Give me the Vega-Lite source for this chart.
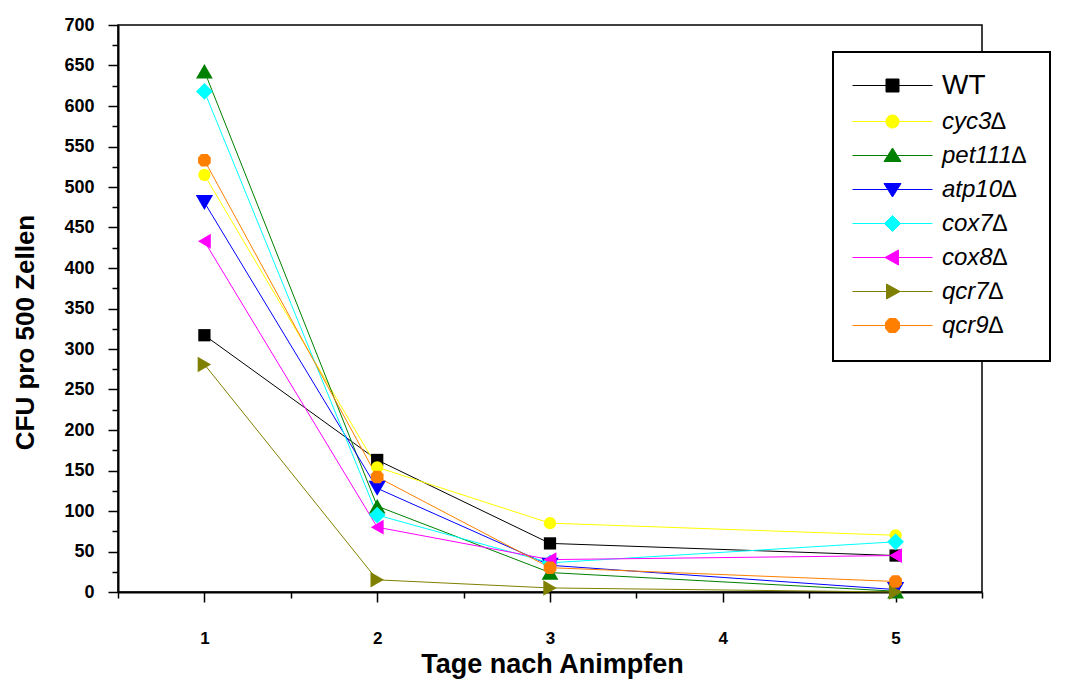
{
  "$schema": "https://vega.github.io/schema/vega-lite/v6.json",
  "width": 864,
  "height": 567,
  "autosize": {"type": "none"},
  "padding": {"left": 118, "top": 25, "right": 84, "bottom": 87},
  "background": "white",
  "config": {"view": {"stroke": "black", "strokeWidth": 1.5}, "font": "Liberation Sans"},
  "data": {
    "values": [
      {"series": "WT", "day": 1, "cfu": 317}, {"series": "WT", "day": 2, "cfu": 163}, {"series": "WT", "day": 3, "cfu": 60}, {"series": "WT", "day": 5, "cfu": 45},
      {"series": "cyc3∆", "day": 1, "cfu": 515}, {"series": "cyc3∆", "day": 2, "cfu": 154}, {"series": "cyc3∆", "day": 3, "cfu": 85}, {"series": "cyc3∆", "day": 5, "cfu": 70},
      {"series": "pet111∆", "day": 1, "cfu": 643}, {"series": "pet111∆", "day": 2, "cfu": 106}, {"series": "pet111∆", "day": 3, "cfu": 24}, {"series": "pet111∆", "day": 5, "cfu": 1},
      {"series": "atp10∆", "day": 1, "cfu": 481}, {"series": "atp10∆", "day": 2, "cfu": 128}, {"series": "atp10∆", "day": 3, "cfu": 33}, {"series": "atp10∆", "day": 5, "cfu": 3},
      {"series": "cox7∆", "day": 1, "cfu": 618}, {"series": "cox7∆", "day": 2, "cfu": 95}, {"series": "cox7∆", "day": 3, "cfu": 36}, {"series": "cox7∆", "day": 5, "cfu": 62},
      {"series": "cox8∆", "day": 1, "cfu": 433}, {"series": "cox8∆", "day": 2, "cfu": 80}, {"series": "cox8∆", "day": 3, "cfu": 40}, {"series": "cox8∆", "day": 5, "cfu": 45},
      {"series": "qcr7∆", "day": 1, "cfu": 281}, {"series": "qcr7∆", "day": 2, "cfu": 15}, {"series": "qcr7∆", "day": 3, "cfu": 5}, {"series": "qcr7∆", "day": 5, "cfu": 0},
      {"series": "qcr9∆", "day": 1, "cfu": 533}, {"series": "qcr9∆", "day": 2, "cfu": 142}, {"series": "qcr9∆", "day": 3, "cfu": 30}, {"series": "qcr9∆", "day": 5, "cfu": 13}
    ]
  },
  "encoding": {
    "x": {
      "field": "day", "type": "quantitative",
      "scale": {"domain": [0.5, 5.5], "nice": false, "zero": false},
      "axis": {
        "values": [0.5, 1, 1.5, 2, 2.5, 3, 3.5, 4, 4.5, 5, 5.5],
        "labelExpr": "datum.value % 1 === 0 ? format(datum.value, 'd') : ''",
        "tickSize": {"condition": {"test": "datum.value % 1 === 0", "value": 10}, "value": 6},
        "tickColor": "black", "tickWidth": 1.5,
        "domainColor": "black", "domainWidth": 2,
        "labelFont": "Liberation Sans", "labelFontWeight": "bold", "labelFontSize": 17, "labelColor": "black",
        "labelPadding": 28, "labelOverlap": false, "grid": false,
        "title": "Tage nach Animpfen",
        "titleFont": "Liberation Sans", "titleFontWeight": "bold", "titleFontSize": 27, "titleColor": "black",
        "titleX": 434, "titleY": 72, "titleBaseline": "middle", "titleAnchor": "middle"
      }
    },
    "y": {
      "field": "cfu", "type": "quantitative",
      "scale": {"domain": [0, 700], "nice": false},
      "axis": {
        "values": [0, 25, 50, 75, 100, 125, 150, 175, 200, 225, 250, 275, 300, 325, 350, 375, 400, 425, 450, 475, 500, 525, 550, 575, 600, 625, 650, 675, 700],
        "labelExpr": "datum.value % 50 === 0 ? datum.label : ''",
        "tickSize": {"condition": {"test": "datum.value % 50 === 0", "value": 10}, "value": 6},
        "tickColor": "black", "tickWidth": 1.5,
        "domainColor": "black", "domainWidth": 2,
        "labelFont": "Liberation Sans", "labelFontWeight": "bold", "labelFontSize": 18, "labelColor": "black",
        "labelPadding": 14, "labelOverlap": false, "grid": false,
        "title": "CFU pro 500 Zellen",
        "titleFont": "Liberation Sans", "titleFontWeight": "bold", "titleFontSize": 26, "titleColor": "black",
        "titleX": -93, "titleY": 307, "titleBaseline": "middle", "titleAlign": "center", "titleAngle": -90
      }
    }
  },
  "layer": [
    {"transform": [{"filter": "datum.series === 'WT'"}], "mark": {"type": "line", "strokeWidth": 1, "color": "#000000"}},
    {"transform": [{"filter": "datum.series === 'cyc3∆'"}], "mark": {"type": "line", "strokeWidth": 1, "color": "#ffff00"}},
    {"transform": [{"filter": "datum.series === 'pet111∆'"}], "mark": {"type": "line", "strokeWidth": 1, "color": "#008000"}},
    {"transform": [{"filter": "datum.series === 'atp10∆'"}], "mark": {"type": "line", "strokeWidth": 1, "color": "#0000ff"}},
    {"transform": [{"filter": "datum.series === 'cox7∆'"}], "mark": {"type": "line", "strokeWidth": 1, "color": "#00ffff"}},
    {"transform": [{"filter": "datum.series === 'cox8∆'"}], "mark": {"type": "line", "strokeWidth": 1, "color": "#ff00ff"}},
    {"transform": [{"filter": "datum.series === 'qcr7∆'"}], "mark": {"type": "line", "strokeWidth": 1, "color": "#808000"}},
    {"transform": [{"filter": "datum.series === 'qcr9∆'"}], "mark": {"type": "line", "strokeWidth": 1, "color": "#ff8000"}},
    {"transform": [{"filter": "datum.series === 'WT'"}], "mark": {"type": "point", "shape": "square", "filled": true, "size": 150, "color": "#000000", "opacity": 1}},
    {"transform": [{"filter": "datum.series === 'cyc3∆'"}], "mark": {"type": "point", "shape": "circle", "filled": true, "size": 150, "color": "#ffff00", "opacity": 1}},
    {"transform": [{"filter": "datum.series === 'pet111∆'"}], "mark": {"type": "point", "shape": "triangle-up", "filled": true, "size": 280, "color": "#008000", "opacity": 1}},
    {"transform": [{"filter": "datum.series === 'atp10∆'"}], "mark": {"type": "point", "shape": "triangle-down", "filled": true, "size": 300, "color": "#0000ff", "opacity": 1}},
    {"transform": [{"filter": "datum.series === 'cox7∆'"}], "mark": {"type": "point", "shape": "diamond", "filled": true, "size": 280, "color": "#00ffff", "opacity": 1}},
    {"transform": [{"filter": "datum.series === 'cox8∆'"}], "mark": {"type": "point", "shape": "triangle-left", "filled": true, "size": 220, "color": "#ff00ff", "opacity": 1}},
    {"transform": [{"filter": "datum.series === 'qcr7∆'"}], "mark": {"type": "point", "shape": "triangle-right", "filled": true, "size": 240, "color": "#808000", "opacity": 1}},
    {"transform": [{"filter": "datum.series === 'qcr9∆'"}], "mark": {"type": "point", "shape": "M-1,-0.45L-0.5,-1L0.5,-1L1,-0.45L1,0.45L0.5,1L-0.5,1L-1,0.45Z", "filled": true, "size": 160, "color": "#ff8000", "opacity": 1}},
    {
      "transform": [{"filter": "false"}],
      "mark": {"type": "point", "filled": true, "size": 400, "opacity": 1, "strokeWidth": 1},
      "encoding": {
        "color": {
          "field": "series", "type": "nominal",
          "scale": {
            "domain": ["WT", "cyc3∆", "pet111∆", "atp10∆", "cox7∆", "cox8∆", "qcr7∆", "qcr9∆"],
            "range": ["#000000", "#ffff00", "#008000", "#0000ff", "#00ffff", "#ff00ff", "#808000", "#ff8000"]
          },
          "legend": {
            "title": null, "orient": "none", "legendX": 715, "legendY": 27,
            "padding": 23, "strokeColor": "black", "fillColor": "white",
            "symbolSize": 400, "symbolStrokeWidth": 1, "symbolOpacity": 1, "symbolOffset": 26,
            "labelFont": "Liberation Sans", "labelFontSize": 24, "labelFontStyle": "italic", "labelColor": "black",
            "labelOffset": 39, "rowPadding": 9, "labelLimit": 400,
            "labelExpr": "datum.label + '          '",
            "encode": {
              "legend": {"update": {"strokeWidth": {"value": 2}}},
              "labels": {"update": {
                "fontSize": [{"test": "datum.value === 'WT'", "value": 28}, {"value": 24}],
                "fontStyle": [{"test": "datum.value === 'WT'", "value": "normal"}, {"value": "italic"}]
              }}
            }
          }
        },
        "shape": {
          "field": "series", "type": "nominal",
          "scale": {
            "domain": ["WT", "cyc3∆", "pet111∆", "atp10∆", "cox7∆", "cox8∆", "qcr7∆", "qcr9∆"],
            "range": [
              "M-4,0H4M-0.65,-0.65H0.65V0.65H-0.65Z",
              "M-4,0H4M0.65,0A0.65,0.65,0,1,1,-0.65,0A0.65,0.65,0,1,1,0.65,0Z",
              "M-4,0H4M0,-0.75L0.85,0.6L-0.85,0.6Z",
              "M-4,0H4M0,0.75L0.85,-0.6L-0.85,-0.6Z",
              "M-4,0H4M0,-0.8L0.8,0L0,0.8L-0.8,0Z",
              "M-4,0H4M-0.75,0L0.6,-0.75L0.6,0.75Z",
              "M-4,0H4M0.75,0L-0.6,-0.75L-0.6,0.75Z",
              "M-4,0H4M-0.7,-0.3L-0.35,-0.7L0.35,-0.7L0.7,-0.3L0.7,0.3L0.35,0.7L-0.35,0.7L-0.7,0.3Z"
            ]
          }
        },
        "stroke": {
          "field": "series", "type": "nominal",
          "scale": {
            "domain": ["WT", "cyc3∆", "pet111∆", "atp10∆", "cox7∆", "cox8∆", "qcr7∆", "qcr9∆"],
            "range": ["#000000", "#ffff00", "#008000", "#0000ff", "#00ffff", "#ff00ff", "#808000", "#ff8000"]
          }
        }
      }
    }
  ]
}
